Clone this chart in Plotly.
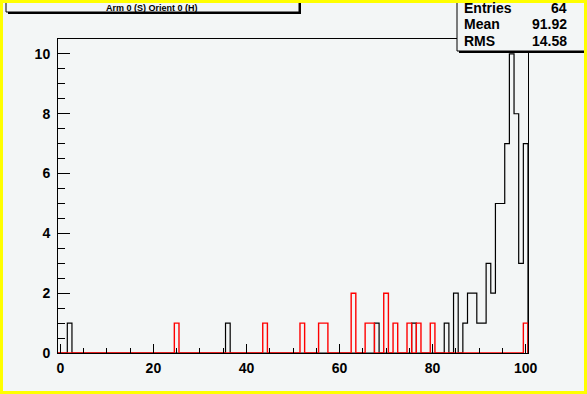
import plotly.graph_objects as go

# ---------------- data ----------------
n_bins = 101
x_min, x_max = -0.5, 100.5

black_bins = [2, 36, 68, 76, 83, 85, 87, 88, 89, 90, 91, 92, 93, 94, 95, 96, 97, 98, 99, 100]
black_counts = [1, 1, 1, 1, 1, 2, 1, 2, 2, 1, 1, 3, 2, 5, 5, 7, 10, 8, 3, 7]

red_bins = [25, 44, 52, 56, 57, 63, 66, 67, 70, 72, 75, 77, 80, 100]
red_counts = [1, 1, 1, 1, 1, 2, 1, 1, 2, 1, 1, 1, 1, 1]

title_text = "Arm 0 (S) Orient 0 (H)"
stats_labels = ["Entries", "Mean", "RMS"]
stats_values = ["64", "91.92", "14.58"]

x_ticks = [0, 20, 40, 60, 80, 100]
y_ticks = [0, 2, 4, 6, 8, 10]

# ---------------- helpers ----------------
W, H = 587, 394
PL, PR, PT, PB = 58, 528, 39, 353
PW, PH = PR - PL, PB - PT


def px(x):
    return (x - PL) / PW


def py(y):
    return (PB - y) / PH


def full_counts(bins, counts):
    arr = [0] * n_bins
    for b, c in zip(bins, counts):
        arr[b] = c
    return arr


def step_xy(arr):
    width = (x_max - x_min) / n_bins
    xs = [x_min + i * width for i in range(n_bins + 1)]
    ys = list(arr) + [arr[-1]]
    xs = [x_min] + xs + [x_max]
    ys = [0] + ys + [0]
    return xs, ys


bx, by = step_xy(full_counts(black_bins, black_counts))
rx, ry = step_xy(full_counts(red_bins, red_counts))

BG = "#f3f6f6"

fig = go.Figure()
fig.add_trace(go.Scatter(x=bx, y=by, mode="lines", line=dict(color="black", width=1.2, shape="hv"),
                         hoverinfo="skip", showlegend=False))
fig.add_trace(go.Scatter(x=rx, y=ry, mode="lines", line=dict(color="#ff0000", width=1.4, shape="hv"),
                         hoverinfo="skip", showlegend=False))

tickfont = dict(family="Liberation Sans, Arial, sans-serif", size=14, color="black", weight="bold")

fig.update_layout(
    width=W, height=H,
    margin=dict(l=PL, r=W - PR, t=PT, b=H - PB, pad=0),
    paper_bgcolor=BG, plot_bgcolor=BG,
    showlegend=False,
    xaxis=dict(range=[x_min, x_max], showgrid=False, zeroline=False,
               showline=True, linecolor="black", linewidth=1, mirror=True,
               tickmode="array", tickvals=x_ticks, ticktext=[str(t) for t in x_ticks],
               ticks="inside", ticklen=9, tickwidth=1, tickcolor="black",
               minor=dict(dtick=5, tick0=0, ticks="inside", ticklen=5, tickwidth=1, tickcolor="black"),
               tickfont=tickfont, ticklabelstandoff=2),
    yaxis=dict(range=[0, 10.5], showgrid=False, zeroline=False,
               showline=True, linecolor="black", linewidth=1, mirror=True,
               tickmode="array", tickvals=y_ticks, ticktext=[str(t) for t in y_ticks],
               ticks="inside", ticklen=12, tickwidth=1, tickcolor="black",
               minor=dict(dtick=0.5, tick0=0, ticks="inside", ticklen=7, tickwidth=1, tickcolor="black"),
               tickfont=tickfont, ticklabelstandoff=4),
)

shapes = []
# title box (shadow + box)
shapes.append(dict(type="rect", xref="paper", yref="paper", x0=px(8), x1=px(301), y0=py(14), y1=py(-5),
                   fillcolor="black", line=dict(width=0)))
shapes.append(dict(type="rect", xref="paper", yref="paper", x0=px(6), x1=px(299), y0=py(12), y1=py(-5),
                   fillcolor=BG, line=dict(color="black", width=1)))
# stats box (shadow + box)
shapes.append(dict(type="rect", xref="paper", yref="paper", x0=px(459), x1=px(592), y0=py(53), y1=py(-5),
                   fillcolor="black", line=dict(width=0)))
shapes.append(dict(type="rect", xref="paper", yref="paper", x0=px(457), x1=px(590), y0=py(51), y1=py(-5),
                   fillcolor=BG, line=dict(color="black", width=1)))
# yellow canvas border
Y = "#ffff00"
shapes.append(dict(type="rect", xref="paper", yref="paper", x0=px(0), x1=px(3), y0=py(H), y1=py(0),
                   fillcolor=Y, line=dict(width=0)))
shapes.append(dict(type="rect", xref="paper", yref="paper", x0=px(W - 3), x1=px(W), y0=py(H), y1=py(0),
                   fillcolor=Y, line=dict(width=0)))
shapes.append(dict(type="rect", xref="paper", yref="paper", x0=px(0), x1=px(W), y0=py(3), y1=py(0),
                   fillcolor=Y, line=dict(width=0)))
shapes.append(dict(type="rect", xref="paper", yref="paper", x0=px(0), x1=px(W), y0=py(H), y1=py(H - 3),
                   fillcolor=Y, line=dict(width=0)))
fig.update_layout(shapes=shapes)

annotations = [dict(text=title_text, xref="paper", yref="paper", x=px(152), y=py(7.5),
                    xanchor="center", yanchor="middle", showarrow=False,
                    font=dict(family="Liberation Sans, Arial, sans-serif", size=9, color="black", weight="bold"))]
rows_y = [8, 24.5, 40.5]
for lab, val, yy in zip(stats_labels, stats_values, rows_y):
    annotations.append(dict(text=lab, xref="paper", yref="paper", x=px(462), y=py(yy),
                            xanchor="left", yanchor="middle", showarrow=False,
                            font=dict(family="Liberation Sans, Arial, sans-serif", size=14, color="black", weight="bold")))
    annotations.append(dict(text=val, xref="paper", yref="paper", x=px(569), y=py(yy),
                            xanchor="right", yanchor="middle", showarrow=False,
                            font=dict(family="Liberation Sans, Arial, sans-serif", size=14, color="black", weight="bold")))
fig.update_layout(annotations=annotations)

fig.write_html("out.html", config={"displayModeBar": False, "staticPlot": True},
               post_script="document.body.style.margin='0';document.body.style.overflow='hidden';")
